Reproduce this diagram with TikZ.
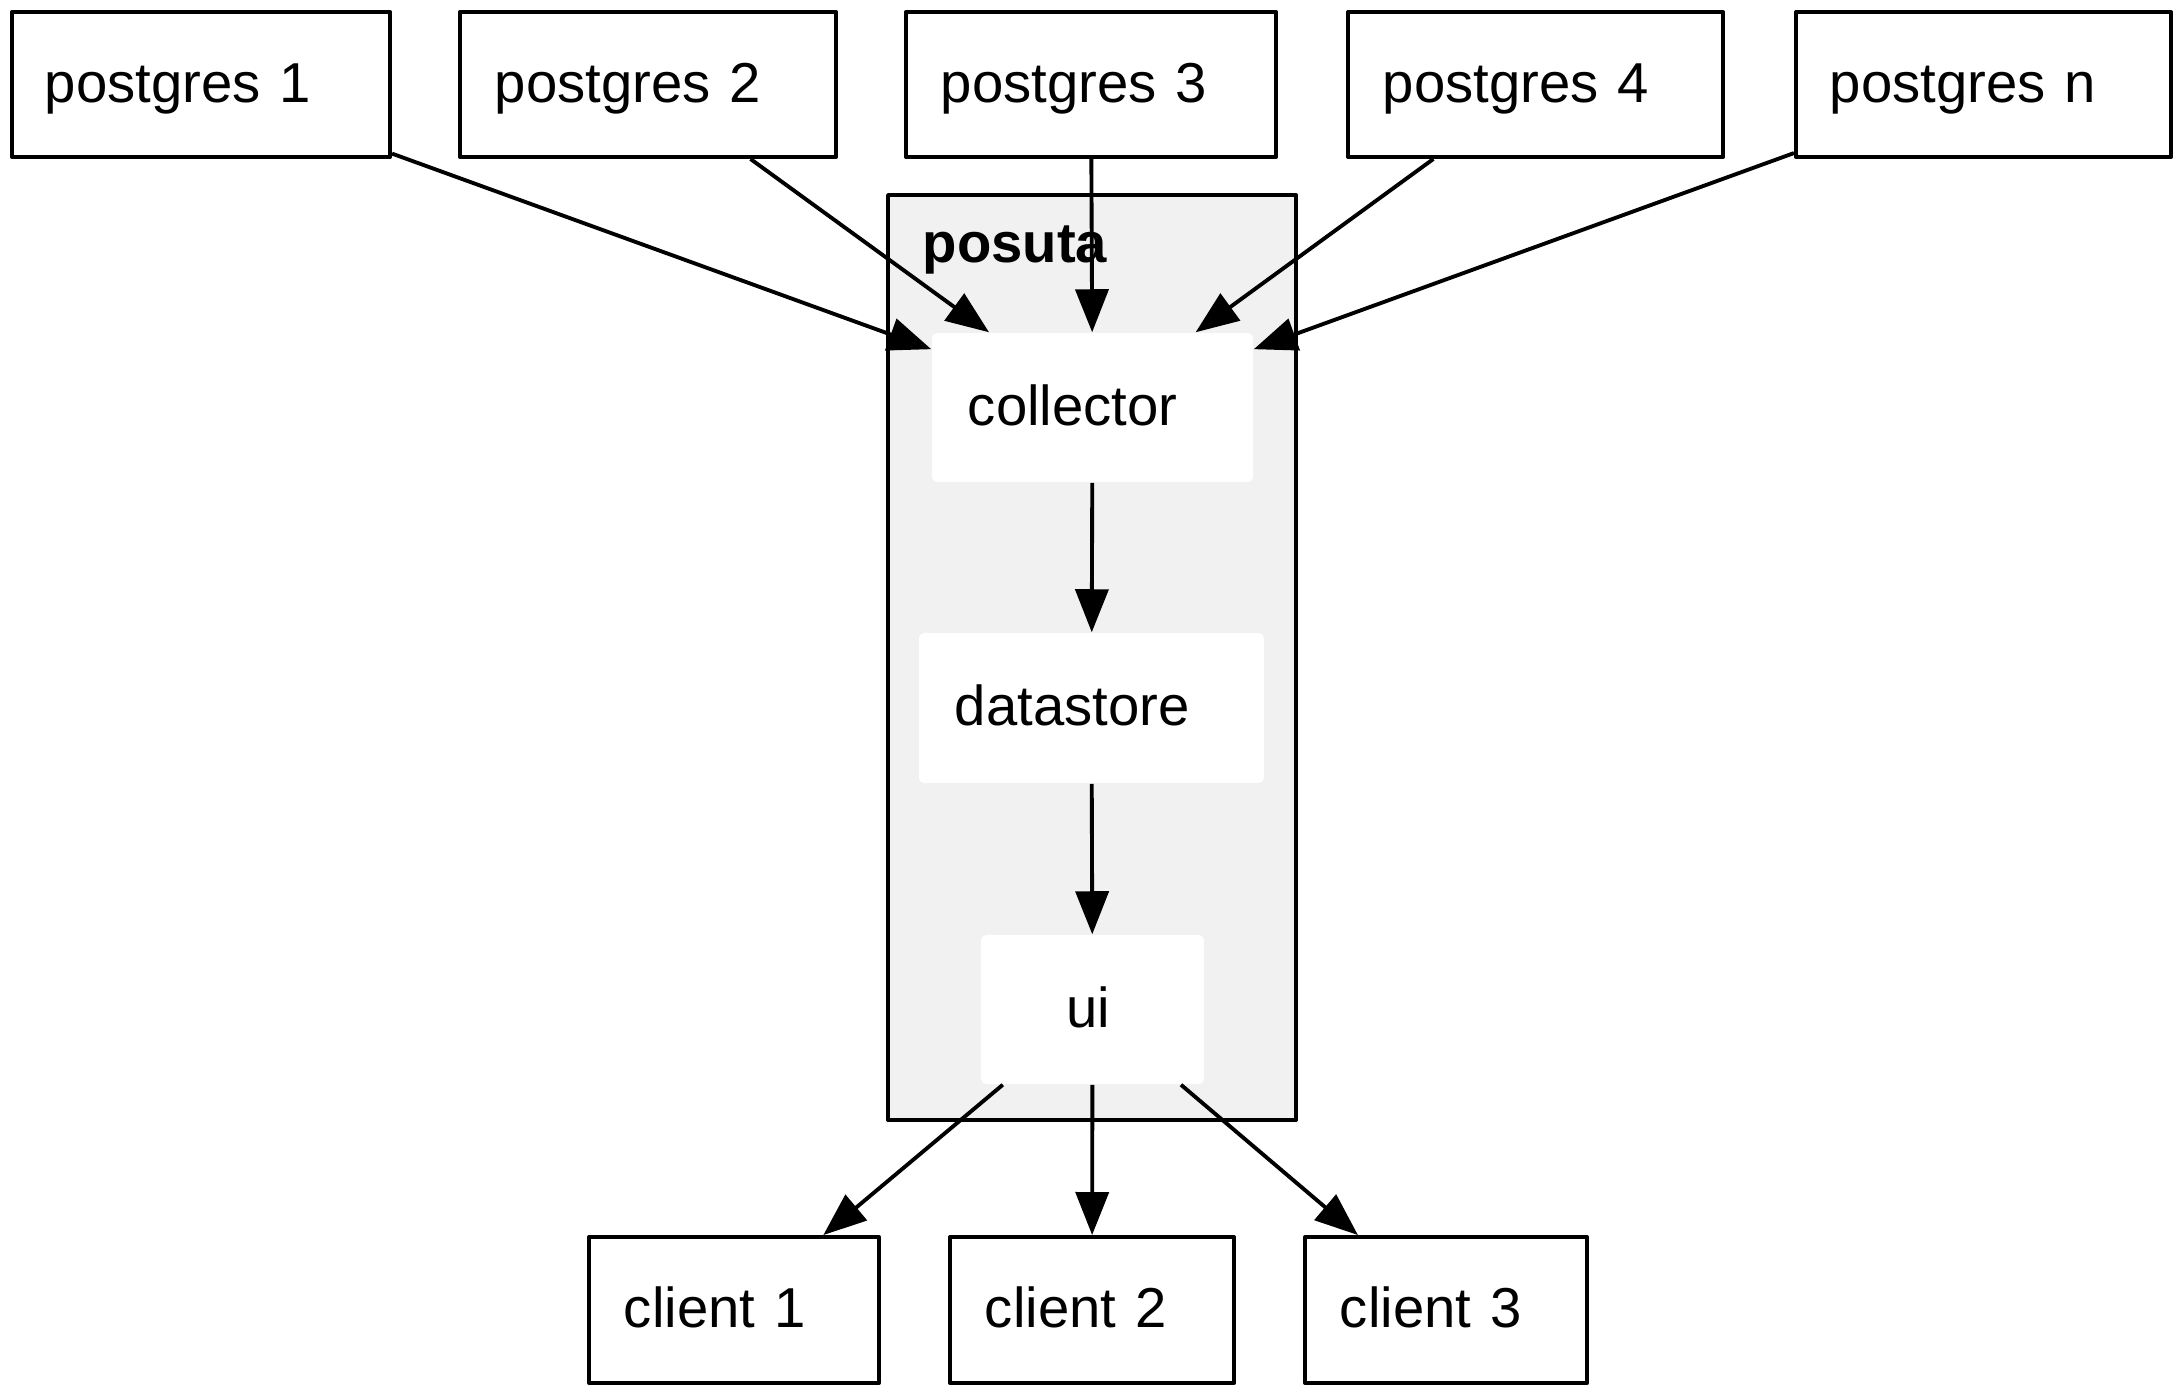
\documentclass[tikz,border=0pt]{standalone}
\usepackage{fontspec}
\setmainfont{Liberation Sans}
\usetikzlibrary{arrows.meta}
\definecolor{clusterfill}{HTML}{F1F1F1}
\tikzset{
  base/.style={inner xsep=0pt, inner ysep=0pt, align=left, text height=10pt, text depth=0pt,
    font=\fontsize{16}{19}\selectfont},
  box/.style={base, draw, line width=1.1pt, fill=white, line join=round},
  innerbox/.style={base, fill=white, rounded corners=1.5pt},
  conn/.style={line width=1.1pt, -{Triangle[length=0.43cm,width=0.33cm]}},
}
\begin{document}
\begin{tikzpicture}[x=0.01cm, y=-0.01cm]
\useasboundingbox (0,0) rectangle (2173,1390);
% cluster
\draw[line width=1.1pt, fill=clusterfill, line join=round] (888,195) rectangle (1296,1120);
\node[inner sep=0pt, anchor=base west, font=\fontsize{16}{19}\selectfont\bfseries] (title) at (922,262) {posuta};
% postgres nodes
\node[box, text width=3.78cm, minimum height=1.45cm] (p1) at (201,84.5) {\hspace*{0.33cm}postgres 1};
\node[box, text width=3.76cm, minimum height=1.45cm] (p2) at (648,84.5) {\hspace*{0.35cm}postgres 2};
\node[box, text width=3.70cm, minimum height=1.45cm] (p3) at (1091,84.5) {\hspace*{0.35cm}postgres 3};
\node[box, text width=3.75cm, minimum height=1.45cm] (p4) at (1535.5,84.5) {\hspace*{0.35cm}postgres 4};
\node[box, text width=3.75cm, minimum height=1.45cm] (pn) at (1983.5,84.5) {\hspace*{0.34cm}postgres n};
% inner nodes
\node[innerbox, text width=3.21cm, minimum height=1.49cm] (col) at (1092.5,407.5) {\hspace*{0.36cm}collector};
\node[innerbox, text width=3.45cm, minimum height=1.50cm] (ds) at (1091.5,708) {\hspace*{0.36cm}datastore};
\node[innerbox, text width=2.23cm, minimum height=1.49cm] (ui) at (1092.5,1009.5) {\hspace*{0.85cm}ui};
% clients
\node[box, text width=2.90cm, minimum height=1.46cm] (c1) at (734,1310) {\hspace*{0.35cm}client 1};
\node[box, text width=2.84cm, minimum height=1.46cm] (c2) at (1092,1310) {\hspace*{0.35cm}client 2};
\node[box, text width=2.82cm, minimum height=1.46cm] (c3) at (1446,1310) {\hspace*{0.35cm}client 3};
% connectors
\draw[conn] (p1) -- (col);
\draw[conn] (p2) -- (col);
\draw[conn] (p3) -- (col);
\draw[conn] (p4) -- (col);
\draw[conn] (pn) -- (col);
\draw[conn] (col) -- (ds);
\draw[conn] (ds) -- (ui);
\draw[conn] (ui) -- (c1);
\draw[conn] (ui) -- (c2);
\draw[conn] (ui) -- (c3);
\end{tikzpicture}
\end{document}
